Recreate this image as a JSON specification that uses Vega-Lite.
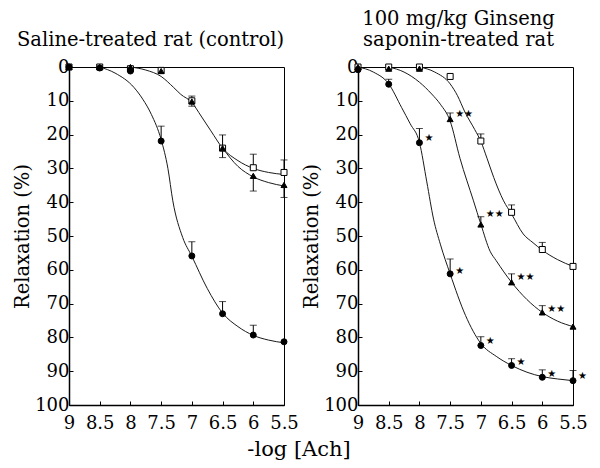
{
  "$schema": "https://vega.github.io/schema/vega-lite/v6.json",
  "background": "white",
  "padding": {"left": 10, "top": 8, "right": 4, "bottom": 4},
  "spacing": 2,
  "title": {
    "text": "-log  [Ach]",
    "orient": "bottom",
    "anchor": "middle",
    "font": "DejaVu Serif",
    "fontSize": 21,
    "fontWeight": "normal",
    "color": "black",
    "offset": 6
  },
  "datasets": {
    "points": [
      {"p": "saline", "s": "square", "x": 9, "y": 0},
      {"p": "saline", "s": "square", "x": 8.5, "y": 0},
      {"p": "saline", "s": "square", "x": 8, "y": 0.5},
      {"p": "saline", "s": "square", "x": 7.5, "y": 1},
      {"p": "saline", "s": "square", "x": 7, "y": 10, "e": 8.6},
      {"p": "saline", "s": "square", "x": 6.5, "y": 24, "e": 20.1},
      {"p": "saline", "s": "square", "x": 6, "y": 29.8, "e": 25.8},
      {"p": "saline", "s": "square", "x": 5.5, "y": 31.2, "e": 27.5},
      {"p": "saline", "s": "triangle", "x": 9, "y": 0},
      {"p": "saline", "s": "triangle", "x": 8.5, "y": 0},
      {"p": "saline", "s": "triangle", "x": 8, "y": 0},
      {"p": "saline", "s": "triangle", "x": 7.5, "y": 1.2},
      {"p": "saline", "s": "triangle", "x": 7, "y": 10.2, "e": 11.6},
      {"p": "saline", "s": "triangle", "x": 6.5, "y": 24, "e": 26.8},
      {"p": "saline", "s": "triangle", "x": 6, "y": 32.2, "e": 36.7},
      {"p": "saline", "s": "triangle", "x": 5.5, "y": 34.9, "e": 38.6},
      {"p": "saline", "s": "circle", "x": 9, "y": 0},
      {"p": "saline", "s": "circle", "x": 8.5, "y": 0.3},
      {"p": "saline", "s": "circle", "x": 8, "y": 1.2},
      {"p": "saline", "s": "circle", "x": 7.5, "y": 21.9, "e": 17.5},
      {"p": "saline", "s": "circle", "x": 7, "y": 55.9, "e": 51.7},
      {"p": "saline", "s": "circle", "x": 6.5, "y": 73, "e": 69.4},
      {"p": "saline", "s": "circle", "x": 6, "y": 79.3, "e": 76.4},
      {"p": "saline", "s": "circle", "x": 5.5, "y": 81.3},
      {"p": "ginseng", "s": "square", "x": 9, "y": 0},
      {"p": "ginseng", "s": "square", "x": 8.5, "y": 0},
      {"p": "ginseng", "s": "square", "x": 8, "y": 0},
      {"p": "ginseng", "s": "square", "x": 7.5, "y": 2.8},
      {"p": "ginseng", "s": "square", "x": 7, "y": 21.9, "e": 19.8},
      {"p": "ginseng", "s": "square", "x": 6.5, "y": 43, "e": 40.8},
      {"p": "ginseng", "s": "square", "x": 6, "y": 54, "e": 51.9},
      {"p": "ginseng", "s": "square", "x": 5.5, "y": 59},
      {"p": "ginseng", "s": "triangle", "x": 9, "y": 0},
      {"p": "ginseng", "s": "triangle", "x": 8.5, "y": 0.5},
      {"p": "ginseng", "s": "triangle", "x": 8, "y": 0.5},
      {"p": "ginseng", "s": "triangle", "x": 7.5, "y": 15.4, "e": 13.6},
      {"p": "ginseng", "s": "triangle", "x": 7, "y": 46.6, "e": 44.3},
      {"p": "ginseng", "s": "triangle", "x": 6.5, "y": 63.7, "e": 61.2},
      {"p": "ginseng", "s": "triangle", "x": 6, "y": 72.6, "e": 70.6},
      {"p": "ginseng", "s": "triangle", "x": 5.5, "y": 76.8},
      {"p": "ginseng", "s": "circle", "x": 9, "y": 0.8},
      {"p": "ginseng", "s": "circle", "x": 8.5, "y": 5.1, "e": 3.6},
      {"p": "ginseng", "s": "circle", "x": 8, "y": 22.4, "e": 18.2},
      {"p": "ginseng", "s": "circle", "x": 7.5, "y": 61.2, "e": 56.8},
      {"p": "ginseng", "s": "circle", "x": 7, "y": 82.4, "e": 79.8},
      {"p": "ginseng", "s": "circle", "x": 6.5, "y": 88.3, "e": 86.3},
      {"p": "ginseng", "s": "circle", "x": 6, "y": 91.8, "e": 89.6},
      {"p": "ginseng", "s": "circle", "x": 5.5, "y": 92.8, "e": 89.8}
    ],
    "curves": [
      {"p": "saline", "s": "circle", "x": 8.5, "y": 0},
      {"p": "saline", "s": "circle", "x": 8.25, "y": 1.8},
      {"p": "saline", "s": "circle", "x": 7.94, "y": 6.1},
      {"p": "saline", "s": "circle", "x": 7.8, "y": 9.5},
      {"p": "saline", "s": "circle", "x": 7.66, "y": 14},
      {"p": "saline", "s": "circle", "x": 7.5, "y": 21.5},
      {"p": "saline", "s": "circle", "x": 7.39, "y": 30},
      {"p": "saline", "s": "circle", "x": 7.31, "y": 39.6},
      {"p": "saline", "s": "circle", "x": 7.15, "y": 50.4},
      {"p": "saline", "s": "circle", "x": 7, "y": 56},
      {"p": "saline", "s": "circle", "x": 6.75, "y": 65.5},
      {"p": "saline", "s": "circle", "x": 6.5, "y": 72.8},
      {"p": "saline", "s": "circle", "x": 6.25, "y": 76.8},
      {"p": "saline", "s": "circle", "x": 6, "y": 79.4},
      {"p": "saline", "s": "circle", "x": 5.75, "y": 80.8},
      {"p": "saline", "s": "circle", "x": 5.5, "y": 81.6},
      {"p": "saline", "s": "square", "x": 8, "y": 0},
      {"p": "saline", "s": "square", "x": 7.75, "y": 0.9},
      {"p": "saline", "s": "square", "x": 7.5, "y": 2.8},
      {"p": "saline", "s": "square", "x": 7.3, "y": 6},
      {"p": "saline", "s": "square", "x": 7.18, "y": 8.1},
      {"p": "saline", "s": "square", "x": 7, "y": 10.5},
      {"p": "saline", "s": "square", "x": 6.85, "y": 14.5},
      {"p": "saline", "s": "square", "x": 6.69, "y": 18.9},
      {"p": "saline", "s": "square", "x": 6.5, "y": 24},
      {"p": "saline", "s": "square", "x": 6.25, "y": 27.7},
      {"p": "saline", "s": "square", "x": 6, "y": 30},
      {"p": "saline", "s": "square", "x": 5.75, "y": 31.2},
      {"p": "saline", "s": "square", "x": 5.5, "y": 31.8},
      {"p": "saline", "s": "triangle", "x": 6.5, "y": 24},
      {"p": "saline", "s": "triangle", "x": 6.25, "y": 29.4},
      {"p": "saline", "s": "triangle", "x": 6, "y": 32.5},
      {"p": "saline", "s": "triangle", "x": 5.75, "y": 34.2},
      {"p": "saline", "s": "triangle", "x": 5.5, "y": 35.2},
      {"p": "ginseng", "s": "circle", "x": 9, "y": 0},
      {"p": "ginseng", "s": "circle", "x": 8.75, "y": 1.5},
      {"p": "ginseng", "s": "circle", "x": 8.5, "y": 5},
      {"p": "ginseng", "s": "circle", "x": 8.29, "y": 12},
      {"p": "ginseng", "s": "circle", "x": 8.15, "y": 16.8},
      {"p": "ginseng", "s": "circle", "x": 8, "y": 22.3},
      {"p": "ginseng", "s": "circle", "x": 7.88, "y": 34},
      {"p": "ginseng", "s": "circle", "x": 7.77, "y": 45},
      {"p": "ginseng", "s": "circle", "x": 7.66, "y": 52.4},
      {"p": "ginseng", "s": "circle", "x": 7.5, "y": 61.2},
      {"p": "ginseng", "s": "circle", "x": 7.25, "y": 73.5},
      {"p": "ginseng", "s": "circle", "x": 7, "y": 81.8},
      {"p": "ginseng", "s": "circle", "x": 6.75, "y": 85.6},
      {"p": "ginseng", "s": "circle", "x": 6.5, "y": 88.3},
      {"p": "ginseng", "s": "circle", "x": 6.25, "y": 90.3},
      {"p": "ginseng", "s": "circle", "x": 6, "y": 91.6},
      {"p": "ginseng", "s": "circle", "x": 5.75, "y": 92.3},
      {"p": "ginseng", "s": "circle", "x": 5.5, "y": 92.8},
      {"p": "ginseng", "s": "triangle", "x": 8.5, "y": 0},
      {"p": "ginseng", "s": "triangle", "x": 8.25, "y": 1.5},
      {"p": "ginseng", "s": "triangle", "x": 8, "y": 4.5},
      {"p": "ginseng", "s": "triangle", "x": 7.8, "y": 8},
      {"p": "ginseng", "s": "triangle", "x": 7.66, "y": 11},
      {"p": "ginseng", "s": "triangle", "x": 7.5, "y": 16},
      {"p": "ginseng", "s": "triangle", "x": 7.34, "y": 27},
      {"p": "ginseng", "s": "triangle", "x": 7.12, "y": 39.6},
      {"p": "ginseng", "s": "triangle", "x": 7, "y": 46.5},
      {"p": "ginseng", "s": "triangle", "x": 6.85, "y": 54.5},
      {"p": "ginseng", "s": "triangle", "x": 6.75, "y": 57.3},
      {"p": "ginseng", "s": "triangle", "x": 6.5, "y": 63.7},
      {"p": "ginseng", "s": "triangle", "x": 6.25, "y": 68.8},
      {"p": "ginseng", "s": "triangle", "x": 6, "y": 72.6},
      {"p": "ginseng", "s": "triangle", "x": 5.75, "y": 75.2},
      {"p": "ginseng", "s": "triangle", "x": 5.5, "y": 76.8},
      {"p": "ginseng", "s": "square", "x": 8, "y": 0},
      {"p": "ginseng", "s": "square", "x": 7.75, "y": 1.5},
      {"p": "ginseng", "s": "square", "x": 7.5, "y": 5},
      {"p": "ginseng", "s": "square", "x": 7.38, "y": 8.5},
      {"p": "ginseng", "s": "square", "x": 7.26, "y": 13.3},
      {"p": "ginseng", "s": "square", "x": 7.1, "y": 18.5},
      {"p": "ginseng", "s": "square", "x": 7, "y": 22},
      {"p": "ginseng", "s": "square", "x": 6.9, "y": 27},
      {"p": "ginseng", "s": "square", "x": 6.79, "y": 32.7},
      {"p": "ginseng", "s": "square", "x": 6.63, "y": 39.6},
      {"p": "ginseng", "s": "square", "x": 6.5, "y": 43.5},
      {"p": "ginseng", "s": "square", "x": 6.31, "y": 49.4},
      {"p": "ginseng", "s": "square", "x": 6.15, "y": 52},
      {"p": "ginseng", "s": "square", "x": 6, "y": 54.2},
      {"p": "ginseng", "s": "square", "x": 5.75, "y": 57},
      {"p": "ginseng", "s": "square", "x": 5.5, "y": 59}
    ],
    "stars": [
      {"p": "ginseng", "x": 8, "y": 21, "l": "★"},
      {"p": "ginseng", "x": 7.5, "y": 60.4, "l": "★"},
      {"p": "ginseng", "x": 7, "y": 81.1, "l": "★"},
      {"p": "ginseng", "x": 6.5, "y": 87.3, "l": "★"},
      {"p": "ginseng", "x": 6, "y": 90.8, "l": "★"},
      {"p": "ginseng", "x": 5.5, "y": 91.5, "l": "★"},
      {"p": "ginseng", "x": 7.5, "y": 14, "l": "★★"},
      {"p": "ginseng", "x": 7, "y": 43.6, "l": "★★"},
      {"p": "ginseng", "x": 6.5, "y": 62.2, "l": "★★"},
      {"p": "ginseng", "x": 6, "y": 71.5, "l": "★★"}
    ]
  },
  "hconcat": [
    {
      "width": 215,
      "height": 338,
      "title": {"text": "Saline-treated  rat  (control)", "frame": "bounds", "dx": -5},
      "encoding": {
        "x": {"field": "x", "type": "quantitative", "scale": {"domain": [5.5, 9], "reverse": true},
              "axis": {"values": [9, 8.5, 8, 7.5, 7, 6.5, 6, 5.5], "format": "~g", "title": null, "labelOverlap": false, "labelFlush": false, "labelBound": false, "labelPadding": 13}},
        "y": {"field": "y", "type": "quantitative", "scale": {"domain": [0, 100], "reverse": true},
              "axis": {"values": [0, 10, 20, 30, 40, 50, 60, 70, 80, 90, 100], "title": "Relaxation  (%)", "labelOverlap": false, "labelFlush": false, "labelBound": false}}
      },
      "layer": [
        {
          "data": {"name": "curves"},
          "transform": [{"filter": "datum.p === 'saline'"}],
          "mark": {"type": "line", "interpolate": "monotone", "color": "#1a1a1a", "strokeWidth": 1},
          "encoding": {"detail": {"field": "s"}}
        },
        {
          "data": {"name": "points"},
          "transform": [{"filter": "datum.p === 'saline' && datum.e != null"}],
          "mark": {"type": "rule", "color": "black", "strokeWidth": 1},
          "encoding": {"y2": {"field": "e"}}
        },
        {
          "data": {"name": "points"},
          "transform": [{"filter": "datum.p === 'saline' && datum.e != null"}],
          "mark": {"type": "tick", "orient": "horizontal", "color": "black", "size": 7, "thickness": 1},
          "encoding": {
            "y": {"field": "e", "type": "quantitative", "scale": {"domain": [0, 100], "reverse": true},
                  "axis": {"values": [0, 10, 20, 30, 40, 50, 60, 70, 80, 90, 100], "title": "Relaxation  (%)", "labelOverlap": false, "labelFlush": false, "labelBound": false}}
          }
        },
        {
          "data": {"name": "points"},
          "transform": [{"filter": "datum.p === 'saline'"}],
          "mark": {"type": "point", "size": 36, "stroke": "black", "strokeWidth": 1, "opacity": 1},
          "encoding": {
            "shape": {"field": "s", "type": "nominal", "legend": null,
                      "scale": {"domain": ["square", "triangle", "circle"], "range": ["square", "triangle-up", "circle"]}},
            "fill": {"field": "s", "type": "nominal", "legend": null,
                     "scale": {"domain": ["square", "triangle", "circle"], "range": ["white", "black", "black"]}}
          }
        }
      ]
    },
    {
      "width": 215,
      "height": 338,
      "title": {"text": ["100 mg/kg  Ginseng", "saponin-treated  rat"], "dx": -7},
      "encoding": {
        "x": {"field": "x", "type": "quantitative", "scale": {"domain": [5.5, 9], "reverse": true},
              "axis": {"values": [9, 8.5, 8, 7.5, 7, 6.5, 6, 5.5], "format": "~g", "title": null, "labelOverlap": false, "labelFlush": false, "labelBound": false, "labelPadding": 13}},
        "y": {"field": "y", "type": "quantitative", "scale": {"domain": [0, 100], "reverse": true},
              "axis": {"values": [0, 10, 20, 30, 40, 50, 60, 70, 80, 90, 100], "title": "Relaxation  (%)", "labelOverlap": false, "labelFlush": false, "labelBound": false}}
      },
      "layer": [
        {
          "data": {"name": "curves"},
          "transform": [{"filter": "datum.p === 'ginseng'"}],
          "mark": {"type": "line", "interpolate": "monotone", "color": "#1a1a1a", "strokeWidth": 1},
          "encoding": {"detail": {"field": "s"}}
        },
        {
          "data": {"name": "points"},
          "transform": [{"filter": "datum.p === 'ginseng' && datum.e != null"}],
          "mark": {"type": "rule", "color": "black", "strokeWidth": 1},
          "encoding": {"y2": {"field": "e"}}
        },
        {
          "data": {"name": "points"},
          "transform": [{"filter": "datum.p === 'ginseng' && datum.e != null"}],
          "mark": {"type": "tick", "orient": "horizontal", "color": "black", "size": 7, "thickness": 1},
          "encoding": {
            "y": {"field": "e", "type": "quantitative", "scale": {"domain": [0, 100], "reverse": true},
                  "axis": {"values": [0, 10, 20, 30, 40, 50, 60, 70, 80, 90, 100], "title": "Relaxation  (%)", "labelOverlap": false, "labelFlush": false, "labelBound": false}}
          }
        },
        {
          "data": {"name": "points"},
          "transform": [{"filter": "datum.p === 'ginseng'"}],
          "mark": {"type": "point", "size": 36, "stroke": "black", "strokeWidth": 1, "opacity": 1},
          "encoding": {
            "shape": {"field": "s", "type": "nominal", "legend": null,
                      "scale": {"domain": ["square", "triangle", "circle"], "range": ["square", "triangle-up", "circle"]}},
            "fill": {"field": "s", "type": "nominal", "legend": null,
                     "scale": {"domain": ["square", "triangle", "circle"], "range": ["white", "black", "black"]}}
          }
        },
        {
          "data": {"name": "stars"},
          "mark": {"type": "text", "align": "left", "baseline": "middle", "dx": 5, "font": "DejaVu Sans", "fontSize": 10, "color": "black"},
          "encoding": {"text": {"field": "l"}}
        }
      ]
    }
  ],
  "config": {
    "view": {"stroke": "black", "strokeWidth": 1},
    "axis": {
      "grid": false,
      "domainColor": "black",
      "domainWidth": 1.5,
      "tickColor": "black",
      "tickSize": -4,
      "labelColor": "black",
      "labelFont": "DejaVu Serif",
      "labelFontSize": 18,
      "labelPadding": 4,
      "labelOverlap": false,
      "titleFont": "DejaVu Serif",
      "titleFontSize": 19.5,
      "titleFontWeight": "normal",
      "titleColor": "black",
      "titlePadding": 2
    },
    "title": {
      "font": "DejaVu Serif",
      "fontSize": 19.5,
      "fontWeight": "normal",
      "color": "black",
      "anchor": "middle",
      "lineHeight": 21,
      "offset": 8
    }
  }
}
